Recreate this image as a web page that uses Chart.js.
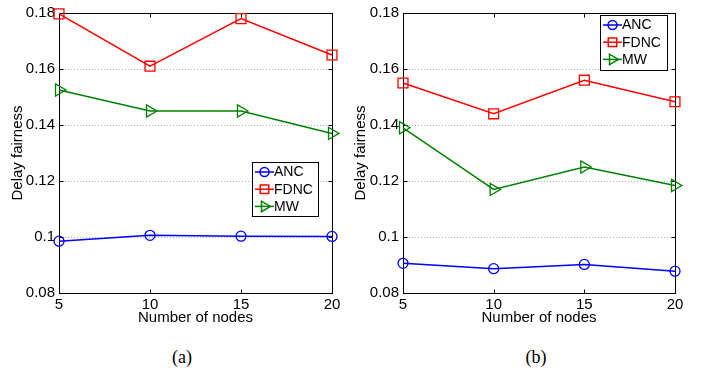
<!DOCTYPE html>
<html>
<head>
<meta charset="utf-8">
<script src="https://cdn.jsdelivr.net/npm/chart.js@4/dist/chart.umd.min.js"></script>
<style>
body { margin: 0; background: #fff; width: 706px; height: 371px; position: relative; overflow: hidden; }
.panel { position: absolute; top: 0; width: 353px; height: 330px; }
.cap { position: absolute; top: 347px; width: 60px; text-align: center; font: 18px "Liberation Serif", serif; color: #000; }
</style>
</head>
<body>
<div class="panel" style="left:0"><canvas id="chartA"></canvas></div>
<div class="panel" style="left:353px"><canvas id="chartB"></canvas></div>
<div class="cap" style="left:152px">(a)</div>
<div class="cap" style="left:506px">(b)</div>
<script>
// data
const nodes = [5, 10, 15, 20];
const yTicks = [0.08, 0.1, 0.12, 0.14, 0.16, 0.18];
const seriesNames = ['ANC', 'FDNC', 'MW'];

const ancA  = [0.0985, 0.1006, 0.1003, 0.1002];
const fdncA = [0.1797, 0.1610, 0.1780, 0.1650];
const mwA   = [0.1525, 0.1450, 0.1450, 0.1370];

const ancB  = [0.0906, 0.0887, 0.0902, 0.0878];
const fdncB = [0.1550, 0.1440, 0.1560, 0.1483];
const mwB   = [0.1390, 0.1170, 0.1250, 0.1184];

const FONT = '"Liberation Sans", Arial, sans-serif';
// marker sizes per style (chart.js radius for rect/triangle is to the corner)
const markerSize = { circle: 5, rect: 7, triangle: 7 };
const legendMarkerSize = { circle: 4.5, rect: 6, triangle: 6 };

function toPoints(vals) {
    return nodes.map((n, i) => ({ x: n, y: vals[i] }));
}

function makeDataset(label, vals, color, style) {
    return {
        label: label,
        data: toPoints(vals),
        borderColor: color,
        backgroundColor: color,
        borderWidth: 1.5,
        pointStyle: style,
        pointRotation: style === 'triangle' ? 90 : 0,
        pointRadius: markerSize[style],
        pointHoverRadius: markerSize[style],
        pointBorderWidth: 1.3,
        pointBackgroundColor: 'rgba(0,0,0,0)',
        pointBorderColor: color,
        tension: 0,
        clip: false
    };
}

// box, dotted grid and inward tick marks like the matlab axes
const framePlugin = {
    id: 'frame',
    beforeDatasetsDraw(chart) {
        const ctx = chart.ctx;
        const a = chart.chartArea;
        const xs = chart.scales.x, ys = chart.scales.y;
        ctx.save();
        ctx.lineWidth = 1;
        ctx.strokeStyle = '#b0b0b0';
        ctx.setLineDash([1, 2]);
        yTicks.forEach(v => {
            const y = Math.round(ys.getPixelForValue(v)) + 0.5;
            if (y <= a.top + 1 || y >= a.bottom - 1) return;
            ctx.beginPath();
            ctx.moveTo(a.left, y);
            ctx.lineTo(a.right, y);
            ctx.stroke();
        });
        ctx.setLineDash([]);
        ctx.strokeStyle = '#000';
        const L = Math.round(a.left) + 0.5, R = Math.round(a.right) + 0.5;
        const T = Math.round(a.top) + 0.5, B = Math.round(a.bottom) + 0.5;
        ctx.strokeRect(L, T, R - L, B - T);
        ctx.beginPath();
        yTicks.forEach(v => {
            const y = Math.round(ys.getPixelForValue(v)) + 0.5;
            ctx.moveTo(L, y); ctx.lineTo(L + 4, y);
            ctx.moveTo(R, y); ctx.lineTo(R - 4, y);
        });
        nodes.forEach(v => {
            const x = Math.round(xs.getPixelForValue(v)) + 0.5;
            ctx.moveTo(x, B); ctx.lineTo(x, B - 4);
            ctx.moveTo(x, T); ctx.lineTo(x, T + 4);
        });
        ctx.stroke();
        ctx.restore();
    },
    afterDraw(chart) {
        const box = chart.options.plugins.frame.legendBox;
        const ctx = chart.ctx;
        ctx.save();
        ctx.fillStyle = '#fff';
        ctx.fillRect(box.x, box.y, box.w, box.h);
        ctx.strokeStyle = '#000';
        ctx.lineWidth = 1;
        ctx.strokeRect(box.x + 0.5, box.y + 0.5, box.w, box.h);
        chart.data.datasets.forEach((ds, i) => {
            const cy = box.y + 10 + i * 17.2;
            ctx.strokeStyle = ds.borderColor;
            ctx.lineWidth = 1.5;
            ctx.beginPath();
            ctx.moveTo(box.x + 3, cy);
            ctx.lineTo(box.x + 22, cy);
            ctx.stroke();
            ctx.fillStyle = 'rgba(0,0,0,0)';
            Chart.helpers.drawPoint(ctx, {
                pointStyle: ds.pointStyle,
                radius: legendMarkerSize[ds.pointStyle],
                rotation: ds.pointRotation,
                borderWidth: 1.3
            }, box.x + 12.5, cy);
            ctx.fillStyle = '#000';
            ctx.font = '14px ' + FONT;
            ctx.textBaseline = 'middle';
            ctx.textAlign = 'left';
            ctx.fillText(ds.label, box.x + 22, cy + 0.5);
        });
        ctx.restore();
    }
};

function makeChart(canvasId, anc, fdnc, mw, cfg) {
    const ctx = document.getElementById(canvasId).getContext('2d');
    return new Chart(ctx, {
        type: 'line',
        data: {
            datasets: [
                makeDataset(seriesNames[0], anc, 'rgb(0,0,255)', 'circle'),
                makeDataset(seriesNames[1], fdnc, 'rgb(255,0,0)', 'rect'),
                makeDataset(seriesNames[2], mw, 'rgb(0,128,0)', 'triangle')
            ]
        },
        options: {
            responsive: true,
            maintainAspectRatio: false,
            animation: false,
            events: [],
            layout: { padding: { left: 0, right: cfg.padRight, top: 11, bottom: 0 } },
            plugins: {
                legend: { display: false },
                tooltip: { enabled: false },
                frame: { legendBox: cfg.legendBox }
            },
            scales: {
                x: {
                    type: 'linear',
                    min: 5, max: 20,
                    afterBuildTicks: s => { s.ticks = nodes.map(v => ({ value: v })); },
                    afterFit: s => { s.height = 37; },
                    grid: { display: false, drawTicks: false },
                    border: { display: false },
                    ticks: { color: '#000', padding: 3, font: { size: 15, family: FONT } },
                    title: {
                        display: true, text: 'Number of nodes', color: '#000',
                        font: { size: 15, family: FONT, lineHeight: 1 },
                        padding: { top: 0, bottom: 5 }
                    }
                },
                y: {
                    type: 'linear',
                    min: 0.08, max: 0.18,
                    afterBuildTicks: s => { s.ticks = yTicks.map(v => ({ value: v })); },
                    afterFit: s => { s.width = cfg.yWidth; },
                    grid: { display: false, drawTicks: false },
                    border: { display: false },
                    ticks: {
                        color: '#000', padding: 4, font: { size: 15, family: FONT },
                        callback: v => String(+v.toFixed(2))
                    },
                    title: {
                        display: true, text: 'Delay fairness', color: '#000',
                        font: { size: 15, family: FONT, lineHeight: 1 },
                        padding: { top: cfg.titlePad, bottom: 0 }
                    }
                }
            }
        },
        plugins: [framePlugin]
    });
}

makeChart('chartA', ancA, fdncA, mwA, {
    yWidth: 59, padRight: 21, titlePad: 10,
    legendBox: { x: 252, y: 162, w: 66, h: 54 }
});
makeChart('chartB', ancB, fdncB, mwB, {
    yWidth: 50, padRight: 31, titlePad: 0,
    legendBox: { x: 247, y: 15, w: 67, h: 55 }
});
</script>
</body>
</html>
